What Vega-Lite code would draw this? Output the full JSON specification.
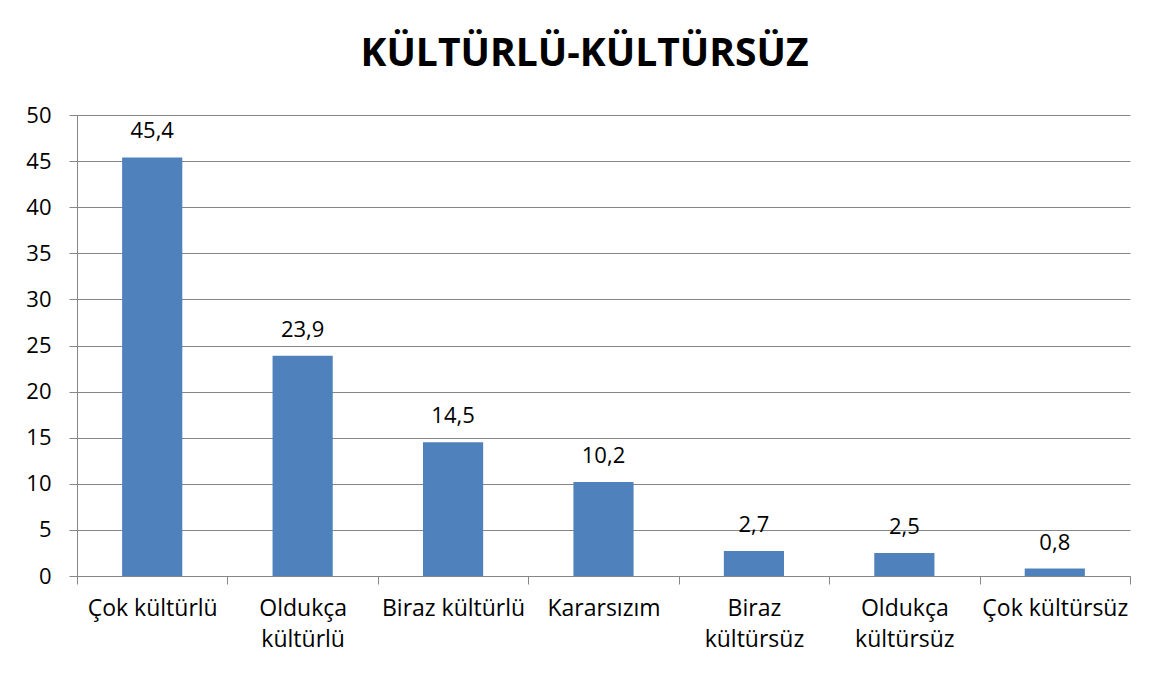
{
  "$schema": "https://vega.github.io/schema/vega-lite/v6.json",
  "width": 1053,
  "height": 461,
  "autosize": {"type": "none"},
  "padding": {"left": 77, "top": 115, "right": 26, "bottom": 99},
  "background": "white",
  "title": {
    "text": "KÜLTÜRLÜ-KÜLTÜRSÜZ",
    "font": "Open Sans",
    "fontSize": 39,
    "fontWeight": "bold",
    "color": "black",
    "anchor": "middle",
    "dx": -19,
    "offset": 30
  },
  "data": {
    "values": [
      {"kategori": "Çok kültürlü", "deger": 45.4},
      {"kategori": "Oldukça kültürlü", "deger": 23.9},
      {"kategori": "Biraz kültürlü", "deger": 14.5},
      {"kategori": "Kararsızım", "deger": 10.2},
      {"kategori": "Biraz kültürsüz", "deger": 2.7},
      {"kategori": "Oldukça kültürsüz", "deger": 2.5},
      {"kategori": "Çok kültürsüz", "deger": 0.8}
    ]
  },
  "encoding": {
    "x": {
      "field": "kategori",
      "type": "nominal",
      "sort": null,
      "scale": {"paddingInner": 0, "paddingOuter": 0},
      "axis": {
        "title": null,
        "labelAngle": 0,
        "tickBand": "extent",
        "ticks": true,
        "tickSize": 8,
        "tickColor": "#868686",
        "domainColor": "#868686",
        "labelFont": "Open Sans",
        "labelFontSize": 23,
        "labelColor": "black",
        "labelLineHeight": 31,
        "labelPadding": 13,
        "labelLimit": 200,
        "labelExpr": "datum.value == 'Oldukça kültürlü' ? ['Oldukça','kültürlü'] : datum.value == 'Biraz kültürsüz' ? ['Biraz','kültürsüz'] : datum.value == 'Oldukça kültürsüz' ? ['Oldukça','kültürsüz'] : datum.label"
      }
    }
  },
  "layer": [
    {
      "mark": {"type": "bar", "width": {"band": 0.4}, "color": "#4F81BD"},
      "encoding": {
        "y": {
          "field": "deger",
          "type": "quantitative",
          "scale": {"domain": [0, 50], "nice": false},
          "axis": {
            "title": null,
            "values": [0, 5, 10, 15, 20, 25, 30, 35, 40, 45, 50],
            "grid": true,
            "gridColor": "#868686",
            "gridOpacity": 1,
            "domainColor": "#868686",
            "tickColor": "#868686",
            "tickSize": 8,
            "labelFont": "Open Sans",
            "labelFontSize": 22,
            "labelColor": "black",
            "labelPadding": 18
          }
        }
      }
    },
    {
      "mark": {
        "type": "text",
        "font": "Open Sans",
        "fontSize": 22,
        "color": "black",
        "baseline": "alphabetic",
        "dy": -19
      },
      "encoding": {
        "y": {"field": "deger", "type": "quantitative"},
        "text": {"field": "deger", "type": "quantitative", "format": ".1f"}
      }
    }
  ],
  "config": {
    "locale": {
      "number": {"decimal": ",", "thousands": ".", "grouping": [3], "currency": ["", " TL"]}
    },
    "view": {"stroke": null}
  }
}
